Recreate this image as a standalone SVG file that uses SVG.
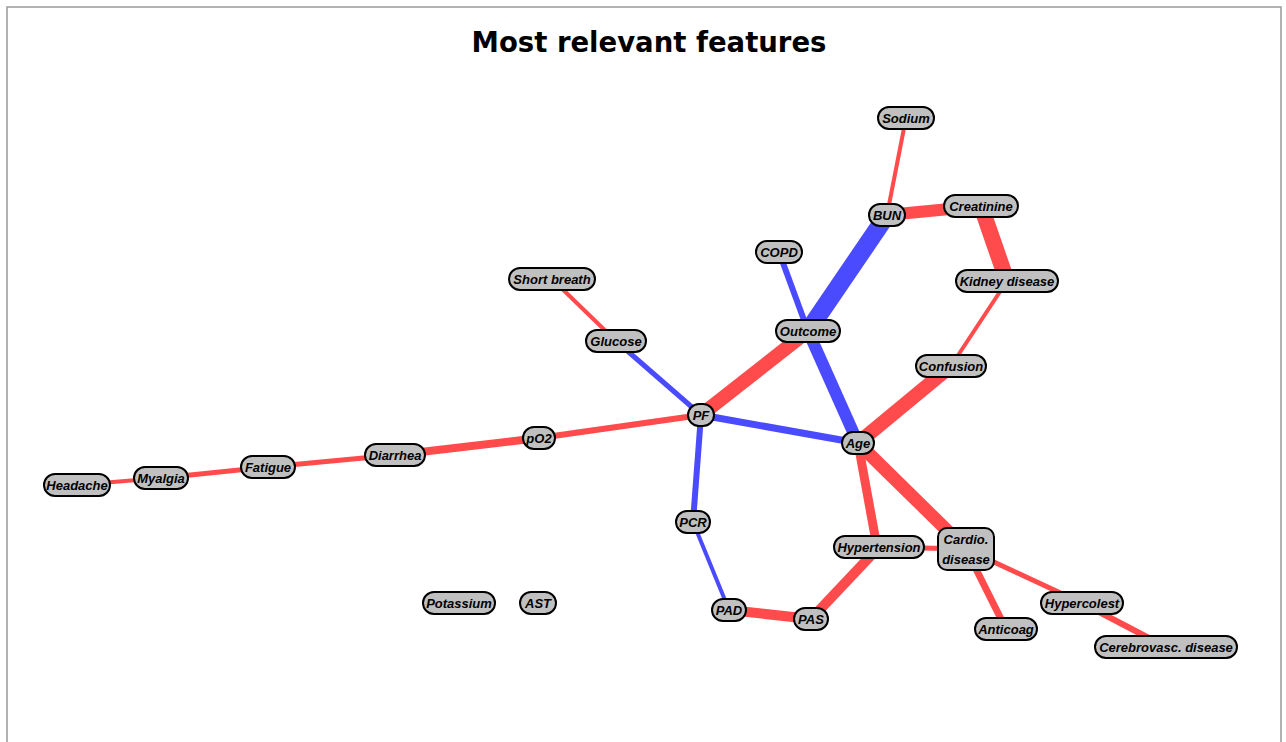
<svg xmlns="http://www.w3.org/2000/svg" width="1286" height="742" viewBox="0 0 1286 742">
<style>
.n rect{fill:#c0c0c0;stroke:#000;stroke-width:2}
.n text{font-family:"Liberation Sans",Arial,sans-serif;font-weight:bold;font-style:italic;font-size:13px;fill:#000;text-anchor:middle;dominant-baseline:central}
.r{stroke:#ff4b4b;stroke-linecap:butt;fill:none}
.b{stroke:#4a4aff;stroke-linecap:butt;fill:none}
</style>
<rect x="0" y="0" width="1286" height="742" fill="#fff"/>
<rect x="7" y="7" width="1274" height="740" fill="none" stroke="#999" stroke-width="1.5"/>
<text x="649" y="52" font-family="DejaVu Sans,sans-serif" font-weight="bold" font-size="27.5" text-anchor="middle" fill="#000">Most relevant features</text>
<g id="connectors">
<line class="r" x1="906" y1="118" x2="887" y2="215" stroke-width="4"/>
<line class="r" x1="887" y1="215" x2="981" y2="206" stroke-width="12"/>
<line class="r" x1="981" y1="206" x2="1007" y2="281" stroke-width="16"/>
<line class="r" x1="1007" y1="281" x2="951" y2="366" stroke-width="4"/>
<line class="r" x1="951" y1="366" x2="858" y2="443" stroke-width="14"/>
<line class="b" x1="887" y1="215" x2="808" y2="331" stroke-width="18"/>
<line class="b" x1="779" y1="252" x2="808" y2="331" stroke-width="6"/>
<line class="b" x1="808" y1="331" x2="858" y2="443" stroke-width="12"/>
<line class="r" x1="808" y1="331" x2="701" y2="415" stroke-width="14"/>
<line class="r" x1="552" y1="279" x2="616" y2="341" stroke-width="4"/>
<line class="b" x1="616" y1="341" x2="701" y2="415" stroke-width="5"/>
<line class="b" x1="701" y1="415" x2="858" y2="443" stroke-width="7"/>
<line class="r" x1="701" y1="415" x2="539" y2="438" stroke-width="6"/>
<line class="r" x1="539" y1="438" x2="395" y2="455" stroke-width="8"/>
<line class="r" x1="395" y1="455" x2="268" y2="467" stroke-width="5"/>
<line class="r" x1="268" y1="467" x2="161" y2="478" stroke-width="5"/>
<line class="r" x1="161" y1="478" x2="77" y2="485" stroke-width="4"/>
<line class="b" x1="701" y1="415" x2="693" y2="522" stroke-width="6"/>
<line class="b" x1="693" y1="522" x2="729" y2="610" stroke-width="4"/>
<line class="r" x1="729" y1="610" x2="811" y2="619" stroke-width="10"/>
<line class="r" x1="811" y1="619" x2="879" y2="547" stroke-width="10"/>
<line class="r" x1="858" y1="443" x2="877" y2="547" stroke-width="9"/>
<line class="r" x1="858" y1="443" x2="966" y2="549" stroke-width="13"/>
<line class="r" x1="879" y1="547" x2="966" y2="549" stroke-width="5"/>
<line class="r" x1="966" y1="549" x2="1006" y2="629" stroke-width="7"/>
<line class="r" x1="966" y1="549" x2="1082" y2="603" stroke-width="5"/>
<line class="r" x1="1082" y1="603" x2="1166" y2="647" stroke-width="6"/>
</g>
<g id="Sodium" class="n"><rect x="878" y="107" width="56" height="22" rx="11"/><text x="906" y="118">Sodium</text></g>
<g id="BUN" class="n"><rect x="869" y="204" width="36" height="22" rx="11"/><text x="887" y="215">BUN</text></g>
<g id="Creatinine" class="n"><rect x="944" y="195" width="74" height="22" rx="11"/><text x="981" y="206">Creatinine</text></g>
<g id="COPD" class="n"><rect x="756" y="241" width="46" height="22" rx="11"/><text x="779" y="252">COPD</text></g>
<g id="Kidney_disease" class="n"><rect x="956" y="270" width="102" height="22" rx="11"/><text x="1007" y="281">Kidney disease</text></g>
<g id="Short_breath" class="n"><rect x="509" y="268" width="86" height="22" rx="11"/><text x="552" y="279">Short breath</text></g>
<g id="Glucose" class="n"><rect x="586" y="330" width="60" height="22" rx="11"/><text x="616" y="341">Glucose</text></g>
<g id="Outcome" class="n"><rect x="776" y="320" width="64" height="22" rx="11"/><text x="808" y="331">Outcome</text></g>
<g id="Confusion" class="n"><rect x="916" y="355" width="70" height="22" rx="11"/><text x="951" y="366">Confusion</text></g>
<g id="PF" class="n"><rect x="688" y="404" width="26" height="22" rx="11"/><text x="701" y="415">PF</text></g>
<g id="pO2" class="n"><rect x="523" y="427" width="32" height="22" rx="11"/><text x="539" y="438">pO2</text></g>
<g id="Age" class="n"><rect x="842" y="432" width="32" height="22" rx="11"/><text x="858" y="443">Age</text></g>
<g id="Diarrhea" class="n"><rect x="365" y="444" width="60" height="22" rx="11"/><text x="395" y="455">Diarrhea</text></g>
<g id="Fatigue" class="n"><rect x="241" y="456" width="54" height="22" rx="11"/><text x="268" y="467">Fatigue</text></g>
<g id="Myalgia" class="n"><rect x="134" y="467" width="54" height="22" rx="11"/><text x="161" y="478">Myalgia</text></g>
<g id="Headache" class="n"><rect x="44" y="474" width="66" height="22" rx="11"/><text x="77" y="485">Headache</text></g>
<g id="PCR" class="n"><rect x="676" y="511" width="34" height="22" rx="11"/><text x="693" y="522">PCR</text></g>
<g id="Hypertension" class="n"><rect x="834" y="536" width="90" height="22" rx="11"/><text x="879" y="547">Hypertension</text></g>
<g id="Cardio_disease" class="n"><rect x="938" y="528" width="56" height="42" rx="9"/><text x="966" y="539">Cardio.</text><text x="966" y="559">disease</text></g>
<g id="Potassium" class="n"><rect x="423" y="592" width="72" height="22" rx="11"/><text x="459" y="603">Potassium</text></g>
<g id="AST" class="n"><rect x="520" y="592" width="36" height="22" rx="11"/><text x="538" y="603">AST</text></g>
<g id="PAD" class="n"><rect x="712" y="599" width="34" height="22" rx="11"/><text x="729" y="610">PAD</text></g>
<g id="PAS" class="n"><rect x="794" y="608" width="34" height="22" rx="11"/><text x="811" y="619">PAS</text></g>
<g id="Anticoag" class="n"><rect x="975" y="618" width="62" height="22" rx="11"/><text x="1006" y="629">Anticoag</text></g>
<g id="Hypercolest" class="n"><rect x="1041" y="592" width="82" height="22" rx="11"/><text x="1082" y="603">Hypercolest</text></g>
<g id="Cerebrovasc_disease" class="n"><rect x="1095" y="636" width="142" height="22" rx="11"/><text x="1166" y="647">Cerebrovasc. disease</text></g>
</svg>
